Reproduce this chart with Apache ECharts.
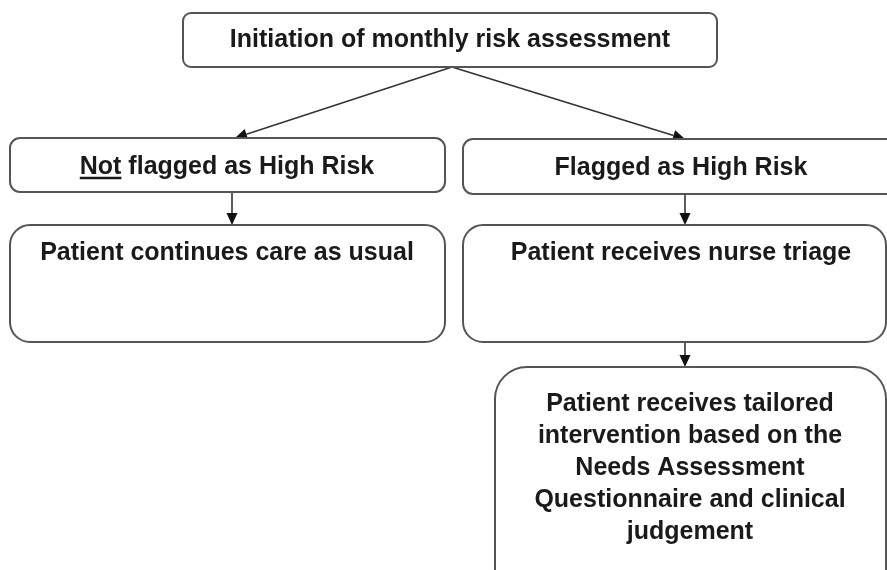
<!DOCTYPE html>
<html>
<head>
<meta charset="utf-8">
<script src="https://cdn.jsdelivr.net/npm/echarts@6/dist/echarts.min.js"></script>
<style>
  html, body { margin: 0; padding: 0; background: #fff; }
  #flow { width: 887px; height: 570px; }
</style>
</head>
<body>
<div id="flow"></div>
<script>
// flowchart: monthly risk assessment -> triage

// box texts
var nodeText = [
  'Initiation of monthly risk assessment',
  'Not flagged as High Risk',
  'Flagged as High Risk',
  'Patient continues care as usual',
  'Patient receives nurse triage',
  'Patient receives tailored\nintervention based on the\nNeeds Assessment\nQuestionnaire and clinical\njudgement'
];
// word to underline in each box ('' = none)
var nodeUnderline = ['', 'Not', '', '', '', ''];

// boxes in diagram units [x0, y0, x1, y1]
var nodeBox = [
  [183, 13, 717, 67],
  [10, 138, 445, 192],
  [463, 139, 897, 194],
  [10, 225, 445, 342],
  [463, 225, 886, 342],
  [495, 367, 886, 610]
];
var nodeRadius = [8, 10, 10, 20, 20, 32];
// label anchor [x, y, valign]
var nodeLabel = [
  [450, 40, 'middle'],
  [227, 167, 'middle'],
  [681, 168, 'middle'],
  [227, 253, 'middle'],
  [681, 253, 'middle'],
  [690, 388, 'top']
];

// arrows [x0, y0, x1, y1]
var arrows = [
  [452, 67, 235, 138],
  [452, 67, 685, 139],
  [232, 192, 232, 225],
  [685, 194, 685, 225],
  [685, 342, 685, 367]
];

var FONT = 'bold 25px "Liberation Sans", Arial, sans-serif';
var measureCtx = document.createElement('canvas').getContext('2d');
measureCtx.font = FONT;

function renderBox(params, api) {
  var i = params.dataIndex;
  var p0 = api.coord([api.value(0), api.value(1)]);
  var p1 = api.coord([api.value(2), api.value(3)]);
  var x = Math.min(p0[0], p1[0]), y = Math.min(p0[1], p1[1]);
  var w = Math.abs(p1[0] - p0[0]), h = Math.abs(p1[1] - p0[1]);
  var lp = api.coord([nodeLabel[i][0], nodeLabel[i][1]]);
  var children = [{
    type: 'rect',
    shape: { x: x, y: y, width: w, height: h, r: nodeRadius[i] },
    style: { fill: '#fff', stroke: '#555', lineWidth: 2 }
  }, {
    type: 'text',
    style: {
      text: nodeText[i],
      x: lp[0], y: lp[1],
      fill: '#1a1a1a',
      font: FONT,
      align: 'center',
      verticalAlign: nodeLabel[i][2],
      lineHeight: 32
    }
  }];
  if (nodeUnderline[i]) {
    var full = measureCtx.measureText(nodeText[i]).width;
    var part = measureCtx.measureText(nodeUnderline[i]).width;
    var left = lp[0] - full / 2;
    var uy = lp[1] + 11;
    children.push({
      type: 'line',
      shape: { x1: left, y1: uy, x2: left + part, y2: uy },
      style: { stroke: '#1a1a1a', lineWidth: 2.5 }
    });
  }
  return { type: 'group', children: children };
}

function renderArrow(params, api) {
  var a = api.coord([api.value(0), api.value(1)]);
  var b = api.coord([api.value(2), api.value(3)]);
  var dx = b[0] - a[0], dy = b[1] - a[1];
  var len = Math.sqrt(dx * dx + dy * dy);
  var ux = dx / len, uy = dy / len;
  var hl = 12, hw = 5.5;
  var bx = b[0] - ux * hl, by = b[1] - uy * hl;
  return {
    type: 'group',
    children: [{
      type: 'line',
      shape: { x1: a[0], y1: a[1], x2: bx, y2: by },
      style: { stroke: '#333', lineWidth: 1.6 }
    }, {
      type: 'polygon',
      shape: { points: [[b[0], b[1]], [bx - uy * hw, by + ux * hw], [bx + uy * hw, by - ux * hw]] },
      style: { fill: '#111' }
    }]
  };
}

var myChart = echarts.init(document.getElementById('flow'));
var option = {
  animation: false,
  backgroundColor: '#fff',
  grid: { left: 0, right: 0, top: 0, bottom: 0 },
  xAxis: { type: 'value', min: 0, max: 887, show: false },
  yAxis: { type: 'value', min: 0, max: 570, inverse: true, show: false },
  series: [{
    type: 'custom',
    name: 'arrows',
    renderItem: renderArrow,
    encode: { x: [0, 2], y: [1, 3] },
    data: arrows,
    z: 1
  }, {
    type: 'custom',
    name: 'boxes',
    renderItem: renderBox,
    encode: { x: [0, 2], y: [1, 3] },
    data: nodeBox,
    z: 2
  }]
};
myChart.setOption(option);
</script>
</body>
</html>
